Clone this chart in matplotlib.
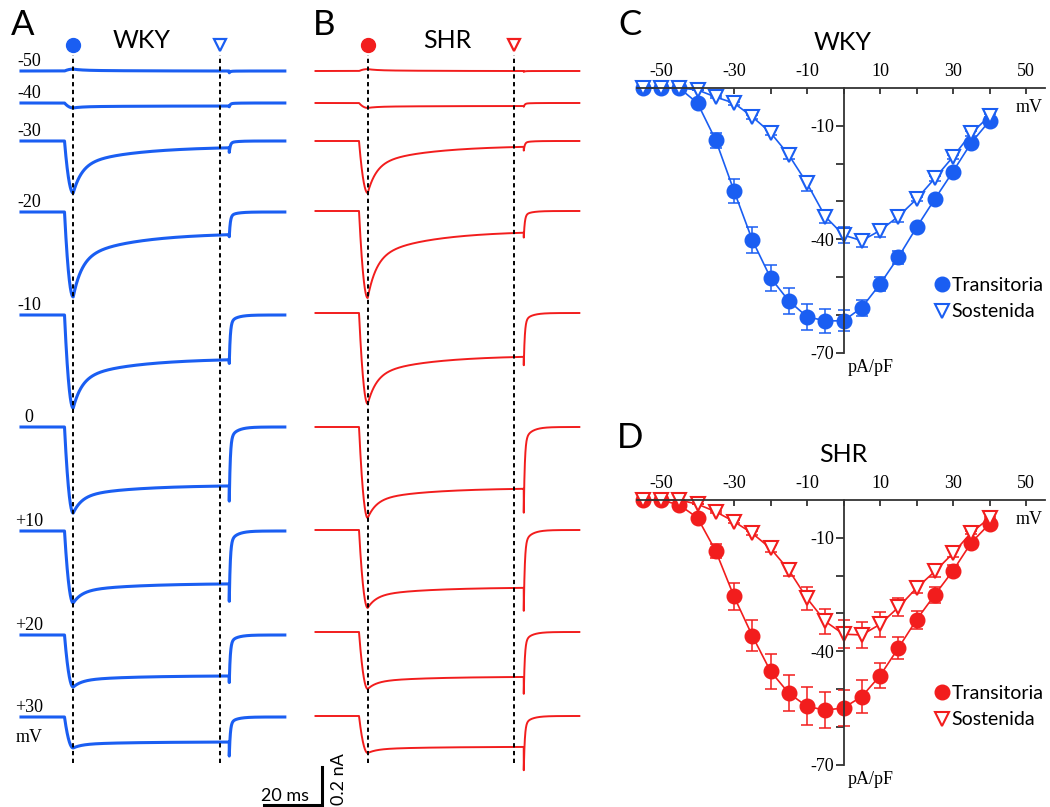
import numpy as np
import matplotlib.pyplot as plt
from matplotlib.lines import Line2D

plt.rcParams['axes.unicode_minus'] = False

W, H = 1050, 807
SERIF = ['Liberation Serif', 'DejaVu Serif']
SANS = ['Lato', 'DejaVu Sans']
BLUE = '#1a5ef2'
RED = '#f21d1d'

# scales of the original figure (pixels per unit)
PX_MS, PX_NA = 2.9, 190.0
PX_MV, PX_PAPF = 3.65, 3.78

# ---- current traces (A, B) ----
steps = ['-50', '-40', '-30', '-20', '-10', '0', '+10', '+20', '+30']
T_PEAK, T_LATE, T_OFF = 3.0, 53.5, 56.8   # ms after step onset

# nA at the peak, at the late dashed line and at the tail
wky_peak = [0.01, -0.026, -0.274, -0.447, -0.49, -0.453, -0.379, -0.274, -0.163]
wky_late = [0.0, -0.016, -0.037, -0.121, -0.237, -0.311, -0.279, -0.216, -0.132]
wky_tail = [-0.01, -0.021, -0.063, -0.137, -0.268, -0.41, -0.389, -0.263, -0.216]

shr_peak = [0.01, -0.026, -0.274, -0.458, -0.479, -0.479, -0.41, -0.30, -0.195]
shr_late = [0.0, -0.016, -0.032, -0.116, -0.232, -0.326, -0.305, -0.237, -0.163]
shr_tail = [-0.005, -0.021, -0.053, -0.147, -0.289, -0.474, -0.447, -0.342, -0.30]

# ---- I-V curves (C, D) ----
mv = [-55, -50, -45, -40, -35, -30, -25, -20, -15, -10,
      -5, 0, 5, 10, 15, 20, 25, 30, 35, 40]
wky_tr = [0, 0, 0, -4.0, -13.8, -27.2, -40.2, -50.2, -56.3, -60.5,
          -61.6, -61.6, -58.1, -51.9, -44.8, -36.9, -29.4, -22.1, -14.5, -8.7]
wky_tr_err = [0, 0, 0, 0.5, 2.0, 3.2, 3.5, 3.4, 3.4, 3.4,
              3.1, 2.8, 2.1, 1.9, 1.8, 1.0, 0.8, 0.8, 0.8, 0.6]
wky_su = [0, 0, 0, -0.5, -2.4, -4.0, -7.6, -11.8, -17.7, -25.2,
          -34.0, -38.9, -40.4, -37.7, -34.0, -29.4, -23.9, -18.2, -12.0, -7.4]
wky_su_err = [0, 0, 0, 0, 0.3, 0.4, 0.5, 0.6, 1.2, 2.0,
              1.6, 2.0, 1.6, 1.6, 1.5, 0.6, 0.6, 0.6, 0.6, 0.4]

shr_tr = [0, 0, -1.3, -4.7, -13.5, -25.5, -35.9, -45.3, -51.1, -54.6,
          -55.6, -55.0, -52.0, -46.5, -39.2, -31.7, -25.1, -18.7, -11.3, -6.3]
shr_tr_err = [0, 0, 0, 0.5, 1.8, 3.6, 4.1, 4.6, 4.8, 5.0,
              4.8, 4.8, 4.3, 3.3, 2.9, 2.4, 2.2, 1.5, 1.0, 0.5]
shr_su = [0, 0, 0, -1.1, -3.1, -5.7, -8.8, -12.8, -18.5, -26.0,
          -32.1, -35.5, -35.7, -32.9, -28.4, -23.3, -18.9, -14.1, -8.6, -4.8]
shr_su_err = [0, 0, 0, 0, 0.3, 0.4, 0.5, 1.0, 1.5, 3.1,
              3.3, 3.7, 3.5, 3.3, 2.4, 1.3, 1.5, 1.0, 0.5, 0.3]

# layout: baseline rows of the traces (px from top)
rows_a = [71, 103, 141, 212, 315, 427, 531, 635, 717]
rows_b = [71, 103, 141, 211, 313, 427, 530, 632, 716]

fig = plt.figure(figsize=(W / 100, H / 100), dpi=100)


def ftext(x, y, s, **kw):
    fig.text(x / W, 1 - y / H, s, **kw)


def current(t, peak, late, tail):
    # piecewise shape through the read values: activation, decay, tail
    i = np.zeros_like(t)
    on = (t >= 0) & (t < T_PEAK)
    x = t[on] / T_PEAK
    i[on] = peak * (1 - (1 - x) ** 2)
    g = lambda s: 0.6 * np.exp(-s / 3.0) + 0.4 * np.exp(-s / 20.0)
    gl = g(T_LATE - T_PEAK)
    i_inf = (late - gl * peak) / (1 - gl)
    dec = (t >= T_PEAK) & (t < T_OFF)
    i[dec] = i_inf + (peak - i_inf) * g(t[dec] - T_PEAK)
    aft = t >= T_OFF
    u = t[aft] - T_OFF
    i[aft] = tail * (0.85 * np.exp(-u / 0.35) + 0.15 * np.exp(-u / 2.5))
    return i


t = np.arange(-15, 76, 0.02)


def trace_panel(left_px, onset_px, rows, peak, late, tail, color, lw):
    ax = fig.add_axes([left_px / W, 0, 300 / W, 1])
    ax.set_xlim(-(onset_px - left_px) / PX_MS, (left_px + 300 - onset_px) / PX_MS)
    ax.set_ylim(-H / PX_NA, 0)
    ax.axis('off')
    for r, p, l, tl in zip(rows, peak, late, tail):
        ax.plot(t, current(t, p, l, tl) - r / PX_NA, color=color, lw=lw,
                clip_on=False, solid_joinstyle='round')
    for tx in (T_PEAK, T_LATE):
        ax.axvline(tx, ymin=1 - 763 / H, ymax=1 - 55 / H, color='k', lw=1.4,
                   ls=(0, (2.2, 1.8)))
    ax.plot(T_PEAK, -45 / PX_NA, 'o', ms=10, color=color, clip_on=False)
    ax.plot(T_LATE, -45 / PX_NA, 'v', ms=9, mfc='white', mec=color, mew=1.6,
            clip_on=False)
    return ax


axA = trace_panel(0, 64.5, rows_a, wky_peak, wky_late, wky_tail, BLUE, 2.2)
axB = trace_panel(300, 359, rows_b, shr_peak, shr_late, shr_tail, RED, 1.4)

for r, s in zip(rows_a, steps):
    ftext(29, r - 5, s, ha='center', va='baseline', family=SERIF, fontsize=13)
ftext(29, 742, 'mV', ha='center', va='baseline', family=SERIF, fontsize=13)

# scale bar (20 ms, 0.2 nA)
xb, yb = (322 - 64.5) / PX_MS, -805 / PX_NA
axA.plot([xb - 20, xb, xb], [yb, yb, yb + 0.2], color='k', lw=2.2,
         clip_on=False, solid_joinstyle='miter')
ftext(285, 801, '20 ms', ha='center', va='baseline', family=SANS, fontsize=13)
ftext(339, 779, '0.2 nA', ha='center', va='center', rotation=90,
      family=SANS, fontsize=13)

ftext(23, 35, 'A', ha='center', va='baseline', family=SANS, fontsize=25)
ftext(142, 48, 'WKY', ha='center', va='baseline', family=SANS, fontsize=18)
ftext(324, 35, 'B', ha='center', va='baseline', family=SANS, fontsize=25)
ftext(447, 48, 'SHR', ha='center', va='baseline', family=SANS, fontsize=18)


def iv_panel(bottom_px, zero_px, tr, tr_err, su, su_err, color, leg_y):
    ax = fig.add_axes([630 / W, 1 - bottom_px / H, 415 / W, 315 / H])
    ax.set_xlim(-(843.5 - 630) / PX_MV, (1045 - 843.5) / PX_MV)
    ax.set_ylim(-(bottom_px - zero_px) / PX_PAPF, (zero_px - bottom_px + 315) / PX_PAPF)
    ax.patch.set_alpha(0)
    for s in ('bottom', 'right'):
        ax.spines[s].set_visible(False)
    for s in ('top', 'left'):
        ax.spines[s].set_position(('data', 0))
        ax.spines[s].set_linewidth(1.3)
        ax.spines[s].set_color('#333333')
    ax.spines['top'].set_bounds(-56.5, 55.2)
    ax.spines['left'].set_bounds(-70, 0)
    ax.xaxis.tick_top()
    ax.set_xticks(range(-50, 51, 10))
    ax.set_xticklabels(['-50', '', '-30', '', '-10', '', '10', '', '30', '', '50'])
    ax.set_yticks(range(-70, -9, 10))
    ax.set_yticklabels(['-70', '', '', '-40', '', '', '-10'])
    ax.tick_params(axis='x', direction='in', length=4, width=1.3, pad=6,
                   color='#333333', labelsize=13)
    ax.tick_params(axis='y', direction='out', length=6, width=1.3, pad=1,
                   color='#333333', labelsize=13)
    for lab in ax.get_xticklabels() + ax.get_yticklabels():
        lab.set_family(SERIF)

    ax.errorbar(mv, tr, yerr=tr_err, fmt='none', ecolor=color, elinewidth=1.1,
                capsize=4.5, capthick=1.1, clip_on=False)
    ax.errorbar(mv, su, yerr=su_err, fmt='none', ecolor=color, elinewidth=1.1,
                capsize=4.5, capthick=1.1, clip_on=False)
    ax.plot(mv, tr, '-o', color=color, lw=1.2, ms=10.5, clip_on=False)
    ax.plot(mv, su, '-v', color=color, lw=1.2, ms=10.5, mfc='white', mec=color,
            mew=1.5, clip_on=False)

    ax.text((1043 - 843.5) / PX_MV, -24 / PX_PAPF, 'mV', ha='right', va='baseline',
            family=SERIF, fontsize=13)
    ax.text((848 - 843.5) / PX_MV, -70 - 19 / PX_PAPF, 'pA/pF', ha='left',
            va='baseline', family=SERIF, fontsize=13)

    h1 = Line2D([], [], ls='none', marker='o', ms=10.5, color=color)
    h2 = Line2D([], [], ls='none', marker='v', ms=10.5, mfc='white', mec=color, mew=1.5)
    ax.legend([h1, h2], ['Transitoria', 'Sostenida'], loc='center left',
              bbox_to_anchor=(0.735, 1 - (leg_y - bottom_px + 315) / 315),
              frameon=False, handlelength=0.7, handletextpad=0.15, borderpad=0,
              borderaxespad=0, labelspacing=0.5,
              prop={'family': SANS, 'size': 14})
    return ax


axC = iv_panel(375, 88, wky_tr, wky_tr_err, wky_su, wky_su_err, BLUE, 298.5)
axD = iv_panel(787, 500, shr_tr, shr_tr_err, shr_su, shr_su_err, RED, 706.5)

ftext(630, 35, 'C', ha='center', va='baseline', family=SANS, fontsize=25)
ftext(843, 50, 'WKY', ha='center', va='baseline', family=SANS, fontsize=18)
ftext(630, 448, 'D', ha='center', va='baseline', family=SANS, fontsize=25)
ftext(843, 462, 'SHR', ha='center', va='baseline', family=SANS, fontsize=18)

fig.savefig('out.png', dpi=100)
